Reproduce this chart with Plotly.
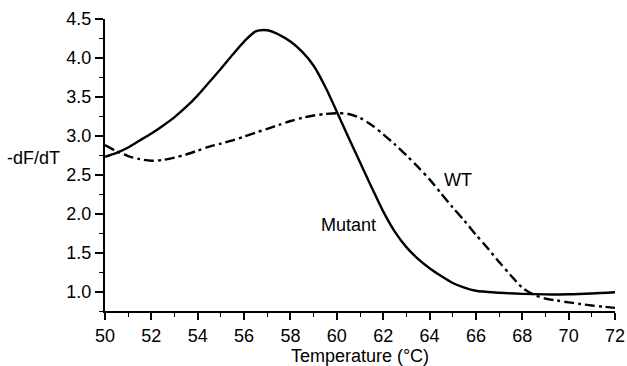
import plotly.graph_objects as go

# Temperature (°C)
mutant_t = [50, 50.5, 51, 51.5, 52, 52.5, 53, 53.5, 54, 54.5, 55, 55.5, 56, 56.5,
            57, 57.5, 58, 58.5, 59, 59.5, 60, 60.5, 61, 61.5, 62, 62.5, 63, 63.5, 64,
            64.5, 65, 65.5, 66, 67, 68, 69, 70, 71, 72]
mutant_v = [2.73, 2.78, 2.85, 2.94, 3.03, 3.13, 3.24, 3.37, 3.52, 3.69, 3.86, 4.04, 4.21, 4.34,
            4.355, 4.30, 4.21, 4.08, 3.90, 3.63, 3.31, 2.98, 2.66, 2.34, 2.03, 1.77, 1.57, 1.42, 1.30,
            1.20, 1.11, 1.05, 1.01, 0.985, 0.97, 0.963, 0.965, 0.975, 0.99]

wt_t = [50, 50.5, 51, 51.5, 52, 52.5, 53, 53.5, 54, 54.5, 55, 55.5, 56, 56.5, 57, 57.5,
        58, 58.5, 59, 59.5, 60, 60.5, 61, 61.5, 62, 62.5, 63, 63.5, 64, 64.5, 65, 65.5,
        66, 66.5, 67, 67.5, 68, 68.5, 69, 69.5, 70, 70.5, 71, 71.5, 72]
wt_v = [2.88, 2.80, 2.74, 2.70, 2.68, 2.69, 2.72, 2.76, 2.81, 2.86, 2.90, 2.94, 2.99, 3.04, 3.09, 3.14,
        3.19, 3.23, 3.26, 3.28, 3.29, 3.28, 3.23, 3.14, 3.02, 2.89, 2.75, 2.60, 2.44, 2.26, 2.08, 1.91,
        1.73, 1.56, 1.38, 1.21, 1.05, 0.96, 0.91, 0.885, 0.86, 0.84, 0.82, 0.805, 0.79]

x_ticks = [50, 52, 54, 56, 58, 60, 62, 64, 66, 68, 70, 72]
y_ticks = [1.0, 1.5, 2.0, 2.5, 3.0, 3.5, 4.0, 4.5]

FONT = "Liberation Sans, Arial, sans-serif"
FS = 18

fig = go.Figure()
fig.add_trace(go.Scatter(x=mutant_t, y=mutant_v, mode="lines", name="Mutant",
                         line=dict(color="black", width=2.4, shape="spline", smoothing=0.8)))
fig.add_trace(go.Scatter(x=wt_t, y=wt_v, mode="lines", name="WT",
                         line=dict(color="black", width=2.4, shape="spline", smoothing=0.8,
                                   dash="10px,4px,3px,4px")))

fig.add_annotation(x=65.24, y=2.43, text="WT", showarrow=False,
                   font=dict(family=FONT, size=FS, color="black"))
fig.add_annotation(x=60.5, y=1.86, text="Mutant", showarrow=False,
                   font=dict(family=FONT, size=FS, color="black"))
fig.add_annotation(x=-0.196, xref="paper", xanchor="left", y=2.72, yref="y", text="-dF/dT",
                   showarrow=False, font=dict(family=FONT, size=FS, color="black"))

fig.update_layout(
    width=627, height=366,
    margin=dict(l=105, r=12, t=19, b=55, autoexpand=False),
    paper_bgcolor="white", plot_bgcolor="white",
    showlegend=False,
    font=dict(family=FONT, size=FS, color="black"),
)
fig.update_xaxes(
    range=[50, 72], tickvals=x_ticks, ticktext=[str(v) for v in x_ticks],
    showline=True, linecolor="black", linewidth=2, showgrid=False, zeroline=False,
    ticks="outside", ticklen=7, tickwidth=1.5, tickcolor="black",
    minor=dict(dtick=1, tick0=50, ticks="outside", ticklen=4, tickwidth=1.2, tickcolor="black"),
    title=dict(text="Temperature (°C)", font=dict(family=FONT, size=FS), standoff=4),
    tickfont=dict(family=FONT, size=FS), ticklabeloverflow="allow", automargin=False,
)
fig.update_yaxes(
    range=[0.75, 4.5], tickvals=y_ticks, ticktext=["%.1f" % v for v in y_ticks],
    showline=True, linecolor="black", linewidth=2, showgrid=False, zeroline=False,
    ticks="outside", ticklen=8, tickwidth=1.5, tickcolor="black",
    minor=dict(dtick=0.25, tick0=0, ticks="outside", ticklen=4, tickwidth=1.2, tickcolor="black"),
    tickfont=dict(family=FONT, size=FS), ticklabeloverflow="allow", automargin=False,
)

fig.write_html("out.html", config={"displayModeBar": False},
               post_script="document.body.style.margin='0';")
